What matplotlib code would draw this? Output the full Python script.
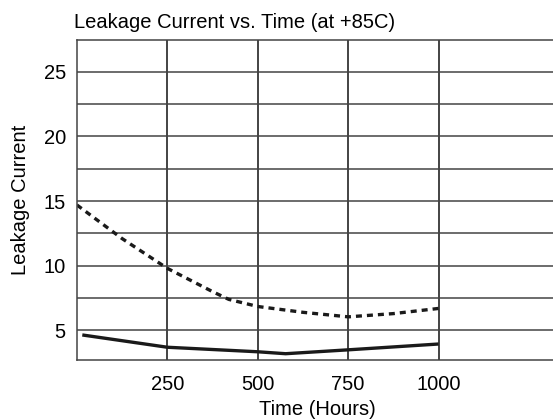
import matplotlib.pyplot as plt
from matplotlib.ticker import MultipleLocator

plt.rcParams['font.family'] = ['Liberation Sans', 'DejaVu Sans']

# dashed curve (upper)
hours_upper = [0, 125, 250, 375, 420, 500, 625, 750, 875, 1000]
leak_upper = [14.7, 12.1, 9.8, 8.0, 7.4, 6.85, 6.4, 6.05, 6.3, 6.7]

# solid curve (lower)
hours_lower = [15, 250, 500, 577, 750, 1000]
leak_lower = [4.65, 3.7, 3.35, 3.2, 3.5, 3.95]

x_ticks = [250, 500, 750, 1000]
y_ticks = [5, 10, 15, 20, 25]

fig = plt.figure(figsize=(5.53, 4.19), dpi=100)
ax = fig.add_axes([0.139, 0.141, 0.87, 0.7635])

ax.plot(hours_upper, leak_upper, color='#1a1a1a', lw=2.4, ls=(0, (1.8, 1.5)))
ax.plot(hours_lower, leak_lower, color='#1a1a1a', lw=2.4, solid_capstyle='butt')

ax.set_xlim(0, 1330)
ax.set_ylim(2.72, 27.45)
ax.set_xticks(x_ticks)
ax.set_yticks(y_ticks)
ax.yaxis.set_minor_locator(MultipleLocator(2.5))
ax.grid(True, which='both', axis='y', color='#444444', lw=1.1)
ax.grid(True, which='major', axis='x', color='#111111', lw=1.1)
ax.tick_params(which='both', length=0, labelsize=14.5, pad=8)
ax.tick_params(axis='x', pad=11)
for s in ax.spines.values():
    s.set_linewidth(1.1)
    s.set_color('#444444')
ax.spines['right'].set_visible(False)

ax.set_xlabel('Time (Hours)', fontsize=14.5, labelpad=4)
ax.set_ylabel('Leakage Current', fontsize=14.5, labelpad=10)
ax.set_title('Leakage Current vs. Time (at +85C)', fontsize=14.5, loc='left', pad=9, x=-0.005)

fig.savefig('out.png', dpi=100)
